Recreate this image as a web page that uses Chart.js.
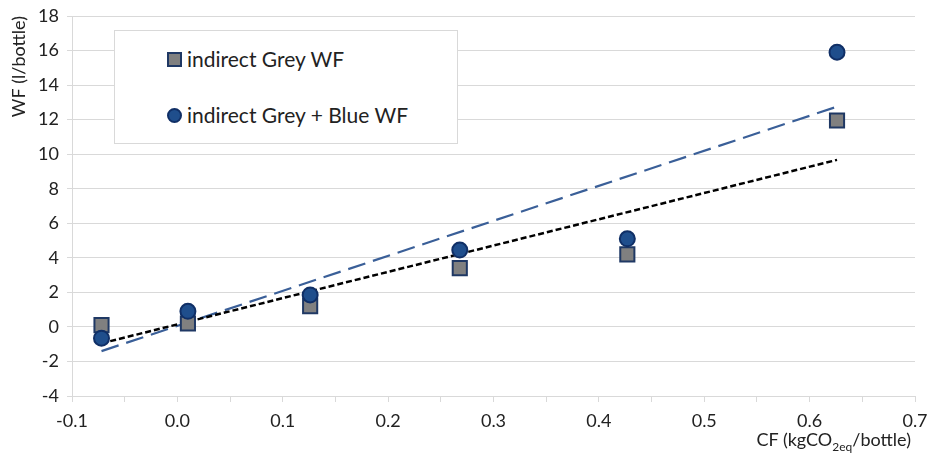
<!DOCTYPE html>
<html>
<head>
<meta charset="utf-8">
<script src="https://cdn.jsdelivr.net/npm/chart.js@4"></script>
<style>
  body { margin: 0; background: #fff; }
  #wrap { position: relative; width: 929px; height: 462px; font-family: Lato, "Open Sans", sans-serif; color: #222; }
  #leyenda { position: absolute; left: 114px; top: 30px; width: 342px; height: 112px; border: 1px solid #d9d9d9; background: #fff; font-size: 21px; }
  .item { position: absolute; left: 52px; height: 26px; line-height: 26px; white-space: nowrap; }
  .cuadro { display: inline-block; width: 11px; height: 11px; background: #808080; border: 2px solid #1f3864; vertical-align: middle; margin-right: 5px; position: relative; top: -2px; }
  .circulo { display: inline-block; width: 11px; height: 11px; background: #1f4e8c; border: 2px solid #102f66; border-radius: 50%; vertical-align: middle; margin-right: 5px; position: relative; top: -2px; }
  #tituloX { position: absolute; right: 18px; top: 428px; font-size: 18px; white-space: nowrap; }
  #tituloX sub { font-size: 12px; }
</style>
</head>
<body>
<div id="wrap">
  <canvas id="grafico" width="929" height="462"></canvas>
  <div id="leyenda">
    <div class="item" style="top:15px"><span class="cuadro"></span>indirect Grey WF</div>
    <div class="item" style="top:71px"><span class="circulo"></span>indirect Grey + Blue WF</div>
  </div>
  <div id="tituloX">CF (kgCO<sub>2eq</sub>/bottle)</div>
</div>
<script>
// datos
var cf = [-0.072, 0.010, 0.126, 0.268, 0.427, 0.626];
var greyWF = [0.1, 0.2, 1.2, 3.4, 4.2, 11.95];
var greyBlueWF = [-0.65, 0.9, 1.85, 4.45, 5.1, 15.9];
// lineas de tendencia (extremos)
var tendX = [-0.072, 0.626];
var tendGrey = [-0.95, 9.67];
var tendGreyBlue = [-1.4, 12.75];

function puntos(xs, ys) {
    return xs.map(function (x, i) { return { x: x, y: ys[i] }; });
}

var fuente = { family: 'Lato, "Open Sans", sans-serif', size: 18 };

var ctx1 = document.getElementById("grafico").getContext("2d");
window.myChart = new Chart(ctx1, {
    type: 'scatter',
    data: {
        datasets: [
            {
                label: 'tendencia Grey + Blue',
                type: 'line',
                data: puntos(tendX, tendGreyBlue),
                borderColor: '#3a5f98',
                borderWidth: 2.2,
                borderDash: [18, 8],
                pointRadius: 0,
                fill: false,
                order: 3
            },
            {
                label: 'tendencia Grey',
                type: 'line',
                data: puntos(tendX, tendGrey),
                borderColor: '#000000',
                borderWidth: 2.5,
                borderDash: [6, 3],
                pointRadius: 0,
                fill: false,
                order: 2
            },
            {
                label: 'indirect Grey WF',
                data: puntos(cf, greyWF),
                pointStyle: 'rect',
                pointRadius: 10,
                backgroundColor: '#808080',
                borderColor: '#1f3864',
                borderWidth: 2,
                order: 1
            },
            {
                label: 'indirect Grey + Blue WF',
                data: puntos(cf, greyBlueWF),
                pointStyle: 'circle',
                pointRadius: 7.5,
                backgroundColor: '#1f4e8c',
                borderColor: '#102f66',
                borderWidth: 2,
                order: 0
            }
        ]
    },
    options: {
        responsive: false,
        animation: false,
        layout: { padding: { top: 16, right: 14, left: 0, bottom: 0 } },
        plugins: {
            legend: { display: false },
            tooltip: { enabled: false }
        },
        scales: {
            x: {
                type: 'linear',
                min: -0.1,
                max: 0.7,
                afterFit: function (s) { s.height = 66; s.paddingRight = 0; s.paddingLeft = 0; },
                afterBuildTicks: function (s) {
                    var t = [];
                    for (var i = 0; i <= 16; i++) t.push({ value: Math.round((-0.1 + i * 0.05) * 100) / 100 });
                    s.ticks = t;
                },
                ticks: {
                    font: fuente,
                    color: '#222',
                    padding: 8,
                    maxRotation: 0,
                    autoSkip: false,
                    callback: function (v) {
                        var r = Math.round(v * 100);
                        return r % 10 === 0 ? v.toFixed(1) : '';
                    }
                },
                grid: { drawOnChartArea: false, tickLength: 6, color: '#d9d9d9' },
                border: { color: '#d9d9d9' }
            },
            y: {
                min: -4,
                max: 18,
                afterFit: function (s) { s.width = 72; s.paddingTop = 0; s.paddingBottom = 0; },
                ticks: { stepSize: 2, font: fuente, color: '#222', padding: 8 },
                grid: { color: '#d9d9d9', tickLength: 5 },
                border: { color: '#d9d9d9' },
                title: {
                    display: true,
                    text: 'WF (l/bottle)',
                    align: 'end',
                    font: fuente,
                    color: '#222',
                    padding: { top: 8, bottom: 0 }
                }
            }
        }
    }
});
</script>
</body>
</html>
